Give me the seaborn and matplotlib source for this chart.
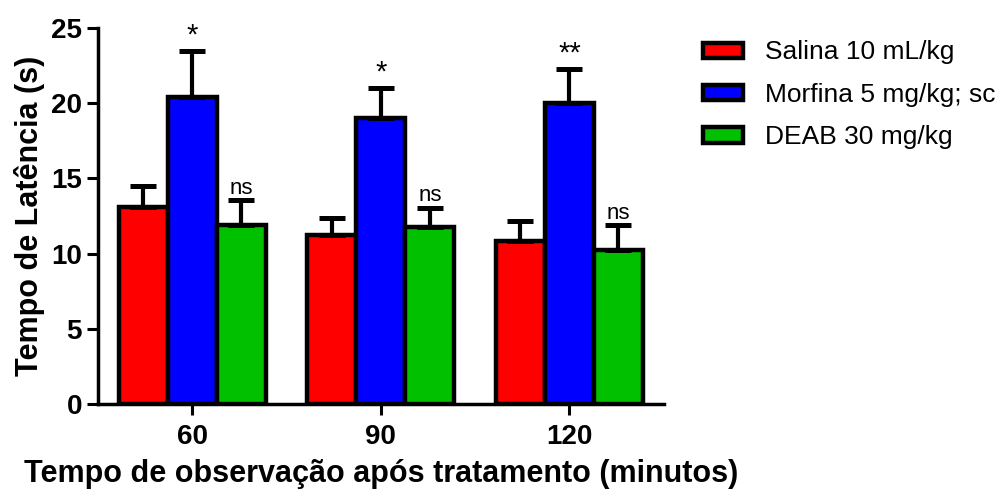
import pandas as pd
import matplotlib
matplotlib.use('Agg')
import matplotlib.pyplot as plt
import seaborn as sns

# dados
tempos = ['60', '90', '120']
grupos = ['Salina 10 mL/kg', 'Morfina 5 mg/kg; sc', 'DEAB 30 mg/kg']
salina = [13.1, 11.25, 10.85]
morfina = [20.4, 19.0, 20.0]
deab = [11.9, 11.75, 10.25]
salina_epm = [1.4, 1.1, 1.35]
morfina_epm = [3.1, 2.0, 2.3]
deab_epm = [1.65, 1.3, 1.65]
sinais = [['', '*', 'ns'], ['', '*', 'ns'], ['', '**', 'ns']]
cores = ['#FF0000', '#0000FF', '#00C000']

sns.set_style('ticks', {'axes.edgecolor': 'black', 'text.color': 'black',
                        'axes.labelcolor': 'black', 'xtick.color': 'black',
                        'ytick.color': 'black'})
plt.rcParams['font.family'] = ['Liberation Sans', 'DejaVu Sans']

df = pd.DataFrame({
    'tempo': tempos * 3,
    'grupo': [g for g in grupos for _ in tempos],
    'media': salina + morfina + deab,
})
epm = [salina_epm, morfina_epm, deab_epm]

fig = plt.figure(figsize=(9.96, 4.91), dpi=100)
ax = fig.add_axes([0.0984, 0.177, 0.568, 0.766])

sns.barplot(data=df, x='tempo', y='media', hue='grupo', order=tempos,
            hue_order=grupos, palette=cores, width=0.78, gap=0,
            edgecolor='black', linewidth=3.2, errorbar=None, ax=ax,
            saturation=1)

barras = list(ax.containers)

# barras de erro (só para cima) e sinais de significância
for i, cont in enumerate(barras):
    for j, bar in enumerate(cont.patches):
        x = bar.get_x() + bar.get_width() / 2
        h = bar.get_height()
        ax.errorbar(x, h, yerr=[[0], [epm[i][j]]], fmt='none', ecolor='black',
                    elinewidth=3, capsize=9.5, capthick=3.6, zorder=1)
        s = sinais[j][i]
        if s:
            ax.annotate(s, (x, h + epm[i][j]), xytext=(0, 1),
                        textcoords='offset points', ha='center', va='bottom',
                        fontsize=16 if s == 'ns' else 21)

ax.set_ylim(0, 25)
ax.set_yticks([0, 5, 10, 15, 20, 25])
ax.set_xlim(-0.5, 2.5)
ax.set_ylabel('Tempo de Latência (s)', fontsize=22, fontweight='bold')
ax.set_xlabel('Tempo de observação após tratamento (minutos)', fontsize=22,
              fontweight='bold', labelpad=7)
ax.tick_params(labelsize=20, width=2.2, length=8)
ax.tick_params(axis='x', pad=6)
for lab in ax.get_xticklabels() + ax.get_yticklabels():
    lab.set_fontweight('bold')
sns.despine(ax=ax)
for sp in ['left', 'bottom']:
    ax.spines[sp].set_linewidth(2.5)

handles = [c.patches[0] for c in barras]
ax.legend(handles, grupos, loc='upper left', bbox_to_anchor=(1.05, 0.995),
          borderaxespad=0, frameon=False, fontsize=19, handlelength=1.55,
          handleheight=0.5, handletextpad=0.8, labelspacing=0.7)

fig.savefig('out.png', dpi=100)
